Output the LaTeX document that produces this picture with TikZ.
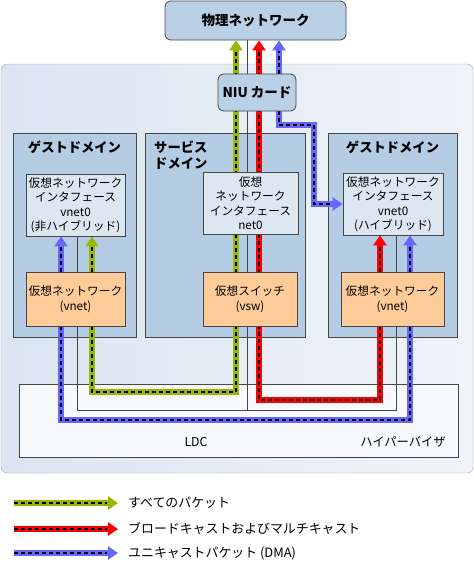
\documentclass[tikz,border=0pt]{standalone}
\usepackage{fontspec}
\setmainfont{Noto Sans CJK JP}
\usetikzlibrary{arrows.meta}
\pgfdeclarelayer{back}
\pgfdeclarelayer{flows}
\pgfsetlayers{back,flows,main}

\definecolor{pgreen}{RGB}{153,182,0}
\definecolor{pred}{RGB}{255,0,0}
\definecolor{pblue}{RGB}{102,102,255}
\definecolor{domfill}{RGB}{180,204,228}
\definecolor{netfill}{RGB}{186,208,231}
\definecolor{iffill}{RGB}{221,231,241}
\definecolor{vfill}{RGB}{255,204,153}
\definecolor{hypfill}{RGB}{247,249,252}
\definecolor{edge}{RGB}{70,70,70}

\tikzset{
  box/.style={draw=edge, line width=0.8pt, inner sep=2pt, align=center,
    font=\fontsize{11.7}{14.5}\selectfont},
  netbox/.style={box, rounded corners=6pt, fill=netfill,
    font=\fontsize{13.5}{16}\selectfont\bfseries},
  dombox/.style={draw=edge, line width=0.8pt, fill=domfill},
  ifbox/.style={box, fill=iffill},
  vbox/.style={box, fill=vfill},
  dtitle/.style={font=\fontsize{13.3}{16}\selectfont\bfseries, align=left, inner sep=2pt},
  plain/.style={font=\fontsize{12.3}{15}\selectfont, inner sep=2pt},
  legtxt/.style={font=\fontsize{12.9}{15}\selectfont, inner sep=2pt},
  wire/.style={draw=edge, line width=0.6pt},
  flow/.style={line width=5.5pt, draw=#1},
  dashes/.style={draw=black, line width=2pt, dash pattern=on 4pt off 3pt},
  flowtip/.style={flow=#1, -{Triangle[width=13pt,length=10pt]},
    postaction={dashes, -, shorten >=11pt}},
  flowrun/.style={flow=#1, postaction={dashes}},
}

\begin{document}
\begin{tikzpicture}[x=1pt, y=-1pt]
    \useasboundingbox (0,0) rectangle (474,566);
    %% Network and card
    \node[netbox, minimum width=181pt, minimum height=39pt] (phys) at (255.5,20.5) {物理ネットワーク};
    \node[netbox, minimum width=78pt, minimum height=37pt] (niu) at (257,92.5) {NIU カード};
    %% Host, hypervisor and domains
    \begin{pgfonlayer}{back}
        \node[draw=gray!70, rounded corners=6pt, left color={rgb,255:red,218;green,229;blue,241},
            right color={rgb,255:red,240;green,244;blue,249},
            minimum width=472pt, minimum height=409pt] (host) at (237,268.5) {};
        \node[draw=edge, line width=0.8pt, fill=hypfill,
            minimum width=439pt, minimum height=73pt] (hyp) at (238.5,420.5) {};
        \node[dombox, minimum width=123pt, minimum height=204pt] (lguest) at (74.5,235) {};
        \node[dombox, minimum width=160pt, minimum height=204pt] (svc) at (225,235) {};
        \node[dombox, minimum width=129pt, minimum height=204pt] (rguest) at (392.5,235) {};
    \end{pgfonlayer}
    \node[dtitle] (lgt) at (74.5,147) {ゲストドメイン};
    \node[dtitle, anchor=west] (svt) at (152,155) {サービス\\ドメイン};
    \node[dtitle] (rgt) at (392.5,147) {ゲストドメイン};
    %% Interfaces
    \node[ifbox, minimum width=99pt, minimum height=62pt] (lif) at (75.5,205)
        {仮想ネットワーク\\インタフェース\\vnet0\\(非ハイブリッド)};
    \node[ifbox, minimum width=95pt, minimum height=62pt] (svif) at (250.5,203)
        {仮想\\ネットワーク\\インタフェース\\net0};
    \node[ifbox, minimum width=100pt, minimum height=62pt] (rif) at (393,204)
        {仮想ネットワーク\\インタフェース\\vnet0\\(ハイブリッド)};
    %% Virtual network and switch
    \node[vbox, minimum width=99pt, minimum height=54pt] (lvnet) at (75.5,299) {仮想ネットワーク\\(vnet)};
    \node[vbox, minimum width=94pt, minimum height=54pt] (vsw) at (250,299) {仮想スイッチ\\(vsw)};
    \node[vbox, minimum width=103pt, minimum height=54pt] (rvnet) at (392.5,299) {仮想ネットワーク\\(vnet)};
    \node[plain] (ldc) at (196,442) {LDC};
    \node[plain] (hyptxt) at (403,442) {ハイパーバイザ};
    %% Wires and packet flows
    \coordinate (wmid) at (247,410);
    \coordinate (wl) at (77,410);
    \coordinate (wr) at (396,410);
    \coordinate (gl) at (92,392);
    \coordinate (gc) at (236,392);
    \coordinate (rc) at (259,400);
    \coordinate (rr) at (380,400);
    \coordinate (bl) at (61,420);
    \coordinate (br) at (410,420);
    \coordinate (bn) at (279,125);
    \coordinate (bk) at (314,125);
    \begin{pgfonlayer}{flows}
        \draw[wire] (phys.south -| wmid) -- (wmid);
        \draw[wire] (lif.south -| wl) |- (wr) -- (rif.south -| wr);
        %% all packets
        \draw[flowtip=pgreen] (lvnet.south -| gl) -- (gl) -- (gc) -- (phys.south -| gc);
        \draw[flowtip=pgreen] (lvnet.north -| gl) -- (lif.south -| gl);
        %% broadcast
        \draw[flowtip=pred] (rvnet.south -| rr) -- (rr) -- (rc) -- (phys.south -| rc);
        \draw[flowtip=pred] (rvnet.north -| rr) -- (rif.south -| rr);
        %% unicast
        \draw[flowrun=pblue] (lvnet.south -| bl) -- (bl) -- (br) -- (rvnet.south -| br);
        \draw[flowtip=pblue] (lvnet.north -| bl) -- (lif.south -| bl);
        \draw[flowtip=pblue] (rvnet.north -| br) -- (rif.south -| br);
        \draw[flowtip=pblue] (niu.south -| bn) -- (bn) -- (bk) |- (rif.west);
        \draw[flowtip=pblue] (niu.north -| bn) -- (phys.south -| bn);
    \end{pgfonlayer}
    %% Legend
    \foreach \c/\y/\t in {pgreen/503/すべてのパケット,
            pred/529/ブロードキャストおよびマルチキャスト,
            pblue/553/ユニキャストパケット (DMA)} {
        \node[legtxt, anchor=west] (leg\y) at (126,\y) {\t};
        \coordinate (legs\y) at (14,\y);
        \draw[flowtip=\c] (legs\y) -- ([xshift=-8pt]leg\y.west);
    }
\end{tikzpicture}
\end{document}
